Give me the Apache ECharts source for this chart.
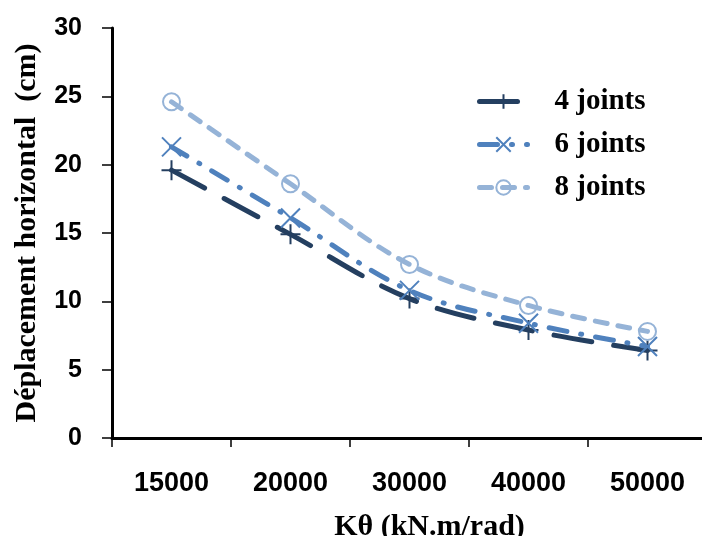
<!DOCTYPE html>
<html><head><meta charset="utf-8">
<script src="https://cdn.jsdelivr.net/npm/echarts@6/dist/echarts.min.js"></script>
<style>html,body{margin:0;padding:0;background:#fff}#c{width:702px;height:536px}</style>
</head><body><div id="c"></div>
<script>
var categories = ['15000','20000','30000','40000','50000'];
var joints4 = [19.6, 14.9, 10.2, 7.9, 6.4];
var joints6 = [21.3, 16.1, 10.8, 8.4, 6.7];
var joints8 = [24.6, 18.6, 12.7, 9.7, 7.8];
var seriesNames = ['4 joints','6 joints','8 joints'];
var yTicks = {min:0, max:30, interval:5};

var chart = echarts.init(document.getElementById('c'));
var plus = 'path://M0,-10L0,10M-10,0L10,0';
var cross = 'path://M-10,-10L10,10M-10,10L10,-10';
var ring = 'path://M10,0A10,10,0,1,1,-10,0A10,10,0,1,1,10,0Z';
function mk(name, data, color, dash, symbol, size){
  return {
    name:name, type:'line', data:data, smooth:0.35,
    symbol:symbol, symbolSize:size, showSymbol:true,
    lineStyle:{color:color, width:5, type:dash, cap:'round'},
    itemStyle:{color: symbol===ring ? 'rgba(255,255,255,0)' : color, borderColor:color, borderWidth:2},
    z: 2
  };
}
chart.setOption({
  animation:false,
  grid:{left:112, top:28, width:595, height:410, containLabel:false, outerBoundsMode:'none'},
  legend:{
    data:seriesNames, orient:'vertical', left:472, top:82,
    itemWidth:48, itemHeight:18, itemGap:14,
    lineStyle:{width:5},
    textStyle:{fontFamily:'Liberation Serif', fontWeight:'bold', fontSize:29, color:'#000', padding:[0,0,0,22]}
  },
  xAxis:{
    type:'category', data:categories, boundaryGap:true,
    axisLine:{lineStyle:{color:'#000', width:3}},
    axisTick:{show:true, length:9, lineStyle:{color:'#000', width:1.5}},
    axisLabel:{color:'#000', fontFamily:'Liberation Sans', fontWeight:'bold', fontSize:27, margin:32},
    name:'Kθ (kN.m/rad)', nameLocation:'middle', nameGap:74,
    nameTextStyle:{fontFamily:'Liberation Serif', fontWeight:'bold', fontSize:30, color:'#000', padding:[0,0,0,40]}
  },
  yAxis:{
    type:'value', min:yTicks.min, max:yTicks.max, interval:yTicks.interval,
    splitLine:{show:false},
    axisLine:{show:true, lineStyle:{color:'#000', width:3}},
    axisTick:{show:true, length:10, lineStyle:{color:'#000', width:1.5}},
    axisLabel:{color:'#000', fontFamily:'Liberation Sans', fontWeight:'bold', fontSize:25, margin:30},
    name:'Déplacement horizontal  (cm)', nameLocation:'middle', nameGap:70, nameRotate:90,
    nameTextStyle:{fontFamily:'Liberation Serif', fontWeight:'bold', fontSize:30, color:'#000'}
  },
  series:[
    mk(seriesNames[0], joints4, '#243F60', [38,22], plus, 20),
    mk(seriesNames[1], joints6, '#4F81BD', [18,14,1,14], cross, 19),
    mk(seriesNames[2], joints8, '#95B3D7', [12,11], ring, 17)
  ]
});
</script></body></html>
